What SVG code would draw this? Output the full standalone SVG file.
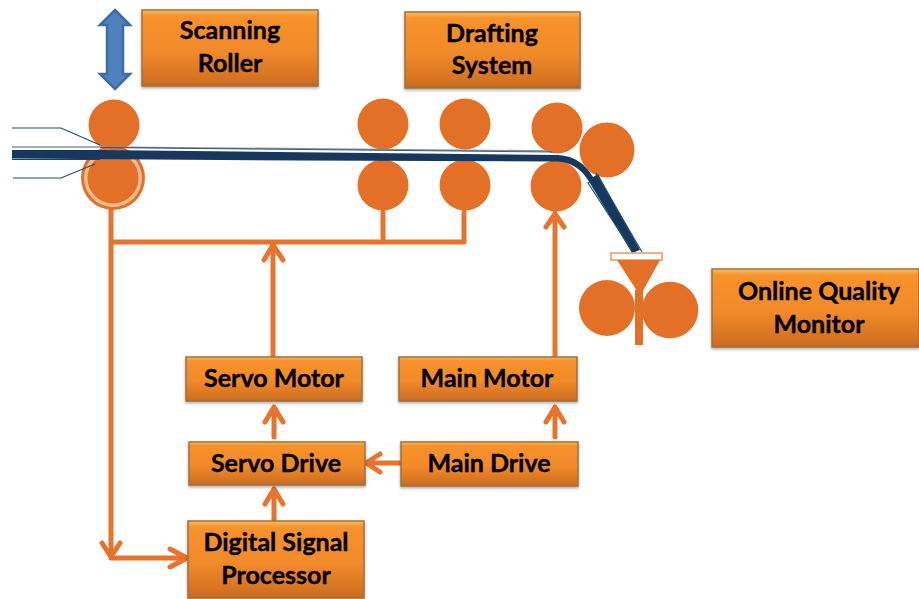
<svg xmlns="http://www.w3.org/2000/svg" width="919" height="599" viewBox="0 0 919 599">
<style>
.box{fill:url(#g);stroke:#a0703c;stroke-width:1.500;filter:url(#s)}
.t{font-family:Lato,"Liberation Sans",sans-serif;font-weight:700;font-size:25px;text-anchor:middle;fill:#000;stroke:#000;stroke-width:.4}
.r{fill:#e46f26}
.c{fill:none;stroke:#e8732c;stroke-width:5;stroke-linecap:round;stroke-linejoin:round}
.thin{fill:none;stroke:#1f4e79;stroke-width:1.200}
</style>
<defs>
<linearGradient id="g" x1="0" y1="0" x2="0" y2="1">
<stop offset="0" stop-color="#f5c060"/><stop offset=".08" stop-color="#f8922c"/><stop offset=".55" stop-color="#f18a2a"/><stop offset=".95" stop-color="#d06f20"/><stop offset="1" stop-color="#b9682a"/>
</linearGradient>
<filter id="s" x="-5%" y="-10%" width="110%" height="125%"><feDropShadow dx="0" dy="1.500" stdDeviation="1.500" flood-color="#000" flood-opacity=".35"/></filter>
</defs>
<g id="connectors">
<path class="c" d="M111 210V556M113 242H464V212M383 242V212M273 242V356"/>
<path class="c" d="M264 260L273 245L283 260"/>
<path class="c" d="M555 356V213M546 227L555 214L564 227"/>
<path class="c" d="M274 437V407M265 422L274 407L283 422"/>
<path class="c" d="M274 519V489M265 504L274 489L283 504"/>
<path class="c" d="M555 437V407M546 422L555 407L564 422"/>
<path class="c" d="M400 463H366M380 454L366 463L380 472"/>
<path class="c" d="M102 543L111 557L120 543M111 558H187M170 549L187 558L170 567"/>
<path id="arrow" d="M115 10L130 25H123V74H130L115 89L100 74H107V25H100Z" fill="#4f81bd" stroke="#3d6da3" stroke-width="2.500"/>
</g>
<g id="rollers">
<circle class="r" cx="113" cy="178" r="32"/>
<circle cx="113" cy="178" r="29" fill="#f6bd8f"/>
<circle class="r" cx="113" cy="178" r="25.500"/>
<circle class="r" cx="114" cy="125" r="25.500"/>
<circle class="r" cx="383" cy="124" r="25.500"/>
<circle class="r" cx="383" cy="185" r="25.500"/>
<circle class="r" cx="465" cy="124" r="25.500"/>
<circle class="r" cx="465" cy="185" r="25.500"/>
<circle class="r" cx="557" cy="128" r="25.500"/>
<circle class="r" cx="556" cy="186" r="25.500"/>
<circle class="r" cx="607" cy="150" r="27.500"/>
<circle class="r" cx="607" cy="308" r="28"/>
<circle class="r" cx="670" cy="310" r="28.300"/>
</g>
<g id="web">
<path class="thin" d="M12 128H61L100 145M13 178H61L95 164"/>
<path d="M12 147H100L552 151" fill="none" stroke="#7f93ad" stroke-width="1.500"/>
<path d="M100 147.500L552 152" fill="none" stroke="#1f3f66" stroke-width=".8"/>
<path d="M12 159.500H100" fill="none" stroke="#1f3f66" stroke-width="1"/>
<path d="M12 150H100L558 155C575 156 585 164 593 177L598 174L640 250L632 253L588 180C580 168 570 162 558 161.500L300 160.500L12 158.500Z" fill="#17375e"/>
<path d="M596 173L642 252M591 181L588 183L633 252" fill="none" stroke="#1f4e79" stroke-width="1.200"/>
</g>
<g id="funnel">
<rect x="611" y="253" width="51" height="7" fill="#fff" stroke="#f0965c" stroke-width="1.500"/>
<path class="r" d="M617 260H660L643 291H637Z"/>
<rect class="r" x="635" y="290" width="8" height="55"/>
</g>
<g id="scanning-roller"><rect class="box" x="142" y="10" width="176" height="76"/><text class="t" x="230" y="39">Scanning</text><text class="t" x="230" y="72">Roller</text></g>
<g id="drafting-system"><rect class="box" x="405" y="12" width="175" height="76"/><text class="t" x="492" y="42">Drafting</text><text class="t" x="492" y="74">System</text></g>
<g id="online-quality-monitor"><rect class="box" x="712" y="269" width="207" height="78"/><text class="t" x="819" y="300">Online Quality</text><text class="t" x="819" y="333">Monitor</text></g>
<g id="servo-motor"><rect class="box" x="186" y="357" width="176" height="44"/><text class="t" x="274" y="387">Servo Motor</text></g>
<g id="main-motor"><rect class="box" x="399" y="357" width="178" height="44"/><text class="t" x="487" y="387">Main Motor</text></g>
<g id="servo-drive"><rect class="box" x="189" y="442" width="176" height="43"/><text class="t" x="276" y="472">Servo Drive</text></g>
<g id="main-drive"><rect class="box" x="401" y="442" width="177" height="44"/><text class="t" x="489" y="472">Main Drive</text></g>
<g id="digital-signal-processor"><rect class="box" x="188" y="521" width="176" height="77"/><text class="t" x="276" y="551">Digital Signal</text><text class="t" x="276" y="584">Processor</text></g>
</svg>
